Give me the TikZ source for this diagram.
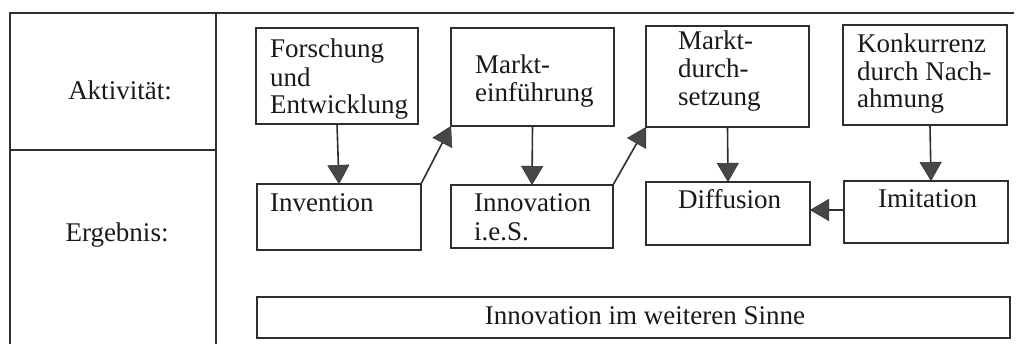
\documentclass[tikz,border=0pt]{standalone}
\usepackage{fontspec}
\setmainfont{Liberation Serif}
\usetikzlibrary{arrows.meta}
\definecolor{ink}{gray}{0.18}
\tikzset{
  box/.style={draw=ink, line width=1.4pt, inner sep=0pt, outer sep=0pt, rectangle},
  txt/.style={anchor=base west, inner sep=0pt, font=\fontsize{27}{30}\selectfont, text=black!90},
  arr/.style={draw=ink, line width=1.6pt,
    -{Triangle[width=22pt,length=19pt,fill=black!72,line width=0.5pt]}},
  frame/.style={draw=ink, line width=1.4pt},
}
\begin{document}
\begin{tikzpicture}[x=1pt,y=-1pt]
\useasboundingbox (0,0) rectangle (1020,344);

% table frame
\coordinate (tl) at (10,13);
\coordinate (tr) at (1014,13);
\coordinate (bl) at (10,344);
\coordinate (dt) at (216,13);
\coordinate (db) at (216,344);
\coordinate (ml) at (10,150);
\coordinate (mr) at (216,150);
\draw[frame] (bl) -- (tl) -- (tr);
\draw[frame] (dt) -- (db);
\draw[frame] (ml) -- (mr);

% row labels
\node[txt, anchor=base] (akt) at (120,100) {Aktivität:};
\node[txt, anchor=base] (erg) at (117,242) {Ergebnis:};

% activity boxes
\node[box, minimum width=162pt, minimum height=96pt]  (fe) at (337,76) {};
\node[box, minimum width=163pt, minimum height=98pt]  (me) at (532.5,77) {};
\node[box, minimum width=163pt, minimum height=101pt] (md) at (727.5,76.5) {};
\node[box, minimum width=164pt, minimum height=100pt] (kn) at (925,75) {};

% result boxes
\node[box, minimum width=164pt, minimum height=66pt] (inv) at (339,217) {};
\node[box, minimum width=162pt, minimum height=63pt] (ies) at (532,216.5) {};
\node[box, minimum width=164pt, minimum height=63pt] (dif) at (728,213.5) {};
\node[box, minimum width=164pt, minimum height=62pt] (imi) at (926,212) {};
\node[box, minimum width=753pt, minimum height=41pt] (iws) at (633.5,317.5) {};

% box texts
\node[txt] (fe1) at (270,58)  {Forschung};
\node[txt] (fe2) at (270,87)  {und};
\node[txt] (fe3) at (270,114) {Entwicklung};
\node[txt] (me1) at (475,74)  {Markt-};
\node[txt] (me2) at (475,102) {einführung};
\node[txt] (md1) at (678,50)  {Markt-};
\node[txt] (md2) at (678,78)  {durch-};
\node[txt] (md3) at (678,106) {setzung};
\node[txt] (kn1) at (857,53)  {Konkurrenz};
\node[txt] (kn2) at (857,81)  {durch Nach-};
\node[txt] (kn3) at (857,108) {ahmung};
\node[txt] (inv1) at (270,212) {Invention};
\node[txt] (ies1) at (474,212) {Innovation};
\node[txt] (ies2) at (474,241) {i.e.S.};
\node[txt] (dif1) at (678,209) {Diffusion};
\node[txt] (imi1) at (878,208) {Imitation};
\node[txt, anchor=base] (iws1) at (645,325) {Innovation im weiteren Sinne};

% connectors
\draw[arr] (fe.south) -- (inv.north);
\draw[arr] (inv.north east) -- (me.south west);
\draw[arr] (me.south) -- (ies.north);
\draw[arr] (ies.north east) -- (md.south west);
\draw[arr] (md.south) -- (dif.north);
\draw[arr] ([xshift=5pt]kn.south) -- ([xshift=5pt]imi.north);
\draw[arr] ([yshift=2pt]imi.west) -- ([yshift=2pt]imi.west -| dif.east);
\end{tikzpicture}
\end{document}
